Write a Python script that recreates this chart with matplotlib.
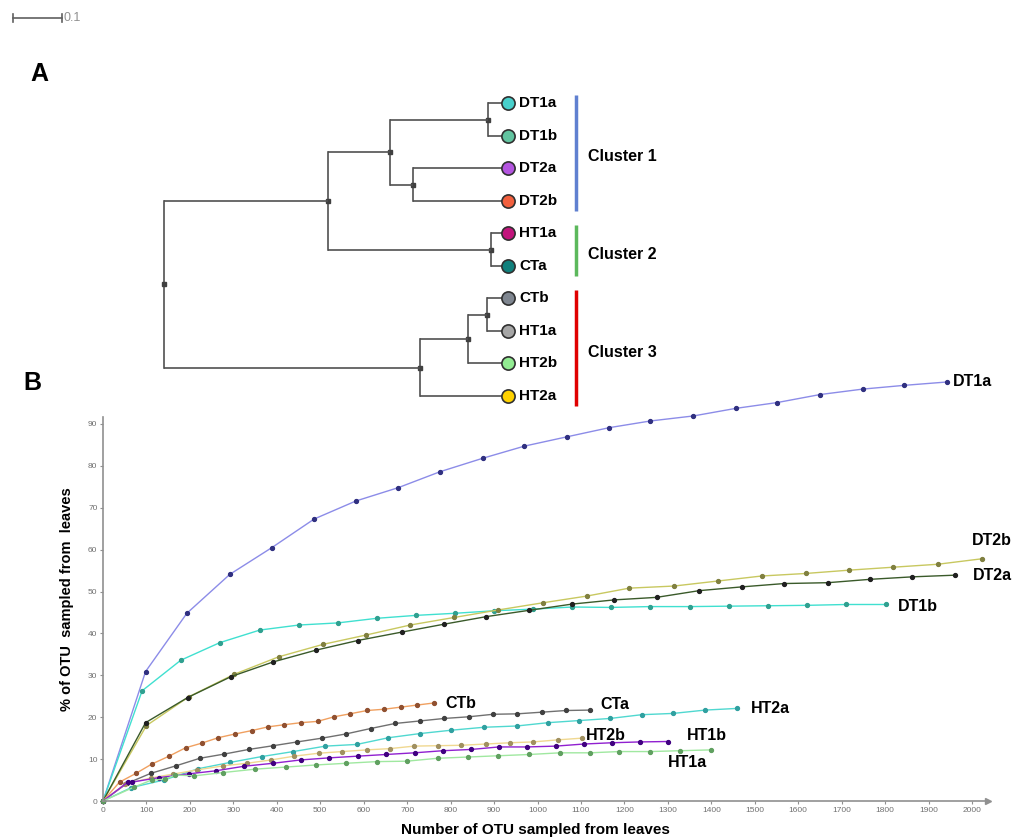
import matplotlib
matplotlib.use("Agg")
import matplotlib.pyplot as plt

plt.rcParams['font.family'] = ['Liberation Sans', 'DejaVu Sans']

# ---- panel A: dendrogram data ----
leaf_names = ["DT1a", "DT1b", "DT2a", "DT2b", "HT1a", "CTa", "CTb", "HT1a", "HT2b", "HT2a"]
leaf_colors = ["#48d0cc", "#62c4a0", "#b455e0", "#f2603e", "#c2147c", "#10807c",
               "#7f8690", "#a6a6a6", "#92ec92", "#ffd200"]
leaf_depth = 0.689
# (child a, child b, depth of the join); ids >= 10 are earlier joins
merges = [(0, 1, 0.662), (2, 3, 0.509), (10, 11, 0.461), (4, 5, 0.667),
          (12, 13, 0.334), (6, 7, 0.660), (15, 8, 0.621), (16, 9, 0.522),
          (14, 17, 0.0)]
clusters = ["Cluster 1", "Cluster 2", "Cluster 3"]
cluster_leaves = [(0, 3), (4, 5), (6, 9)]
cluster_colors = ["#6080d0", "#5cb85c", "#e00000"]

# ---- panel B: rarefaction curves ----
DT1a_x = [0, 98, 193, 292, 389, 486, 582, 680, 776, 874, 970, 1067, 1165, 1260, 1359, 1456, 1552, 1650, 1748, 1844, 1942]
DT1a_y = [0, 30.9, 44.8, 54.1, 60.5, 67.3, 71.6, 74.8, 78.6, 81.8, 84.7, 86.9, 89.1, 90.7, 91.9, 93.7, 95.1, 97.0, 98.3, 99.2, 100.0]
DT1b_x = [0, 90, 179, 269, 361, 451, 540, 630, 720, 810, 900, 990, 1080, 1169, 1259, 1351, 1441, 1531, 1621, 1711, 1801]
DT1b_y = [0, 26.3, 33.6, 37.8, 40.8, 42.0, 42.5, 43.6, 44.3, 44.8, 45.4, 45.8, 46.3, 46.2, 46.4, 46.4, 46.5, 46.6, 46.7, 46.9, 46.9]
DT2a_x = [0, 98, 195, 295, 392, 490, 586, 687, 785, 882, 980, 1080, 1177, 1274, 1372, 1470, 1568, 1668, 1765, 1863, 1962]
DT2a_y = [0, 18.7, 24.7, 29.7, 33.2, 36.0, 38.3, 40.3, 42.2, 44.0, 45.5, 47.0, 48.0, 48.6, 50.2, 51.1, 51.9, 52.1, 52.9, 53.5, 53.9]
DT2b_x = [0, 100, 198, 301, 404, 507, 605, 707, 808, 910, 1012, 1113, 1211, 1314, 1415, 1516, 1617, 1718, 1819, 1921, 2022]
DT2b_y = [0, 18.0, 24.9, 30.2, 34.4, 37.4, 39.6, 42.0, 43.8, 45.6, 47.3, 48.9, 50.8, 51.3, 52.5, 53.7, 54.3, 55.1, 55.8, 56.5, 57.8]
CTb_x = [0, 38, 76, 112, 152, 190, 227, 265, 304, 342, 380, 417, 456, 494, 532, 568, 608, 647, 685, 723, 762]
CTb_y = [0, 4.5, 6.6, 8.8, 10.7, 12.7, 13.8, 15.1, 16.0, 16.8, 17.7, 18.2, 18.7, 19.0, 20.1, 20.8, 21.6, 21.9, 22.4, 22.9, 23.4]
CTa_x = [0, 55, 110, 168, 223, 279, 335, 392, 447, 504, 559, 616, 672, 729, 785, 842, 898, 953, 1010, 1066, 1121]
CTa_y = [0, 4.2, 6.6, 8.4, 10.2, 11.2, 12.3, 13.2, 14.1, 15.0, 16.0, 17.3, 18.5, 19.1, 19.7, 20.1, 20.7, 20.8, 21.2, 21.6, 21.7]
HT2a_x = [0, 65, 140, 219, 292, 365, 438, 512, 584, 657, 730, 802, 877, 952, 1025, 1096, 1167, 1240, 1312, 1386, 1460]
HT2a_y = [0, 3.2, 5.0, 7.7, 9.2, 10.6, 11.8, 13.1, 13.5, 15.1, 16.1, 16.9, 17.6, 17.9, 18.7, 19.2, 19.7, 20.6, 20.9, 21.7, 22.1]
HT2b_x = [0, 50, 110, 160, 216, 277, 331, 387, 440, 496, 551, 607, 660, 716, 772, 825, 881, 937, 990, 1048, 1102]
HT2b_y = [0, 4.0, 5.5, 6.4, 7.4, 8.4, 9.0, 9.8, 10.7, 11.4, 11.8, 12.2, 12.5, 13.1, 13.2, 13.3, 13.6, 13.9, 14.1, 14.6, 15.0]
HT1b_x = [0, 57, 66, 130, 199, 259, 325, 391, 455, 521, 586, 651, 717, 782, 847, 911, 975, 1042, 1107, 1171, 1236, 1300]
HT1b_y = [0, 4.5, 4.5, 5.6, 6.5, 7.2, 8.3, 9.0, 9.8, 10.3, 10.7, 11.1, 11.5, 12.0, 12.3, 12.9, 12.9, 13.1, 13.6, 13.9, 14.1, 14.2]
HT1a_x = [0, 71, 112, 143, 166, 210, 277, 350, 421, 490, 559, 630, 699, 770, 841, 910, 981, 1052, 1121, 1188, 1259, 1328, 1399]
HT1a_y = [0, 3.3, 5.0, 5.2, 6.2, 6.0, 6.8, 7.6, 8.1, 8.6, 9.0, 9.4, 9.5, 10.2, 10.5, 10.8, 11.1, 11.5, 11.5, 11.8, 11.8, 12.0, 12.2]

# name, x, y, line colour, marker colour, label offset (pixels)
series = [
    ("DT1a", DT1a_x, DT1a_y, "#8c8ce8", "#303080", (6, 0)),
    ("DT1b", DT1b_x, DT1b_y, "#40e0d0", "#30a090", (12, -2)),
    ("DT2b", DT2b_x, DT2b_y, "#c8c860", "#808040", (-10, 18)),
    ("DT2a", DT2a_x, DT2a_y, "#3a5a2a", "#202020", (17, 0)),
    ("CTb", CTb_x, CTb_y, "#f0a060", "#905030", (11, -1)),
    ("CTa", CTa_x, CTa_y, "#707070", "#404040", (10, 6)),
    ("HT2a", HT2a_x, HT2a_y, "#50d8d0", "#30a0a0", (14, 0)),
    ("HT2b", HT2b_x, HT2b_y, "#f0d890", "#a09060", (4, 3)),
    ("HT1b", HT1b_x, HT1b_y, "#9020d0", "#400080", (19, 6)),
    ("HT1a", HT1a_x, HT1a_y, "#a0e8a0", "#60a060", (-43, -13)),
]

W, H = 1024, 839
fig = plt.figure(figsize=(W / 100, H / 100), dpi=100)

# ---------------- panel B ----------------
ax = fig.add_axes([103 / W, (H - 801) / H, 2040 * 0.4345 / W, 101 * 4.19 / H])
ax.patch.set_visible(False)
ax.set_xlim(0, 2040)
ax.set_ylim(0, 101)
for s in ("top", "right"):
    ax.spines[s].set_visible(False)
for s in ("left", "bottom"):
    ax.spines[s].set_color("#909090")
    ax.spines[s].set_linewidth(1.2)
ax.spines["left"].set_bounds(0, 91.6)
ax.spines["bottom"].set_bounds(0, 2036)
ax.plot(2036, 0, marker=">", ms=4, color="#909090", clip_on=False)

ax.set_xticks(range(0, 2001, 100))
ax.set_yticks(range(0, 91, 10))
ax.tick_params(colors="#909090", labelcolor="#707070", labelsize=6, length=2, width=0.8, pad=2)

for name, xs, ys, lc, mc, off in series:
    ax.plot(xs, ys, color=lc, lw=1.0, marker="o", ms=2.8, mfc=mc, mec=mc, clip_on=False)
    ax.annotate(name, (xs[-1], ys[-1]), xytext=off, textcoords="offset pixels",
                fontsize=11.5, fontweight="bold", ha="left", va="center", annotation_clip=False)

fig.text(535 / W, 1 - 830 / H, "Number of OTU sampled from leaves", fontsize=11,
         fontweight="bold", ha="center", va="center")
fig.text(67 / W, 1 - 599 / H, "% of OTU  sampled from  leaves", fontsize=10.5,
         fontweight="bold", ha="center", va="center", rotation=90)

# ---------------- panel A ----------------
at = fig.add_axes([0, (H - 420) / H, 1, 420 / H])
at.patch.set_visible(False)
at.set_xlim(-0.3347, 1.755)
at.set_ylim(9.739, -3.177)
at.axis("off")

node_y = {i: float(i) for i in range(len(leaf_names))}
node_d = {i: leaf_depth for i in range(len(leaf_names))}
tree_col = "#505050"
for k, (a, b, d) in enumerate(merges):
    nid = len(leaf_names) + k
    for c in (a, b):
        at.plot([d, node_d[c]], [node_y[c], node_y[c]], color=tree_col, lw=1.2, solid_capstyle="butt")
    at.plot([d, d], [node_y[a], node_y[b]], color=tree_col, lw=1.2)
    node_y[nid] = (node_y[a] + node_y[b]) / 2
    node_d[nid] = d
    at.plot(d, node_y[nid], marker="s", ms=2.5, color="#404040")

for i, (name, col) in enumerate(zip(leaf_names, leaf_colors)):
    at.plot(leaf_depth + 0.013, i, marker="o", ms=9.5, mfc=col, mec="#303030", mew=1.2, zorder=5)
    at.text(leaf_depth + 0.036, i, name, fontsize=11, fontweight="bold", va="center", ha="left")

for name, (lo, hi), col in zip(clusters, cluster_leaves, cluster_colors):
    at.plot([0.841, 0.841], [lo - 0.25, hi + 0.3], color=col, lw=2.5, solid_capstyle="butt")
    at.text(0.865, (lo + hi) / 2 + 0.15, name, fontsize=11.5, fontweight="bold", va="center", ha="left")

# scale bar
at.plot([-0.3083, -0.2083], [-2.623, -2.623], color="#606060", lw=1.2)
at.plot([-0.3083, -0.3083], [-2.74, -2.50], color="#606060", lw=1.2)
at.plot([-0.2083, -0.2083], [-2.74, -2.50], color="#606060", lw=1.2)
at.text(-0.205, -2.623, "0.1", color="#909090", fontsize=9, va="center", ha="left")

fig.text(39 / W, 1 - 74 / H, "A", fontsize=18, fontweight="bold", ha="center", va="center")
fig.text(32 / W, 1 - 383 / H, "B", fontsize=18, fontweight="bold", ha="center", va="center")

fig.savefig("out.png", dpi=100)
